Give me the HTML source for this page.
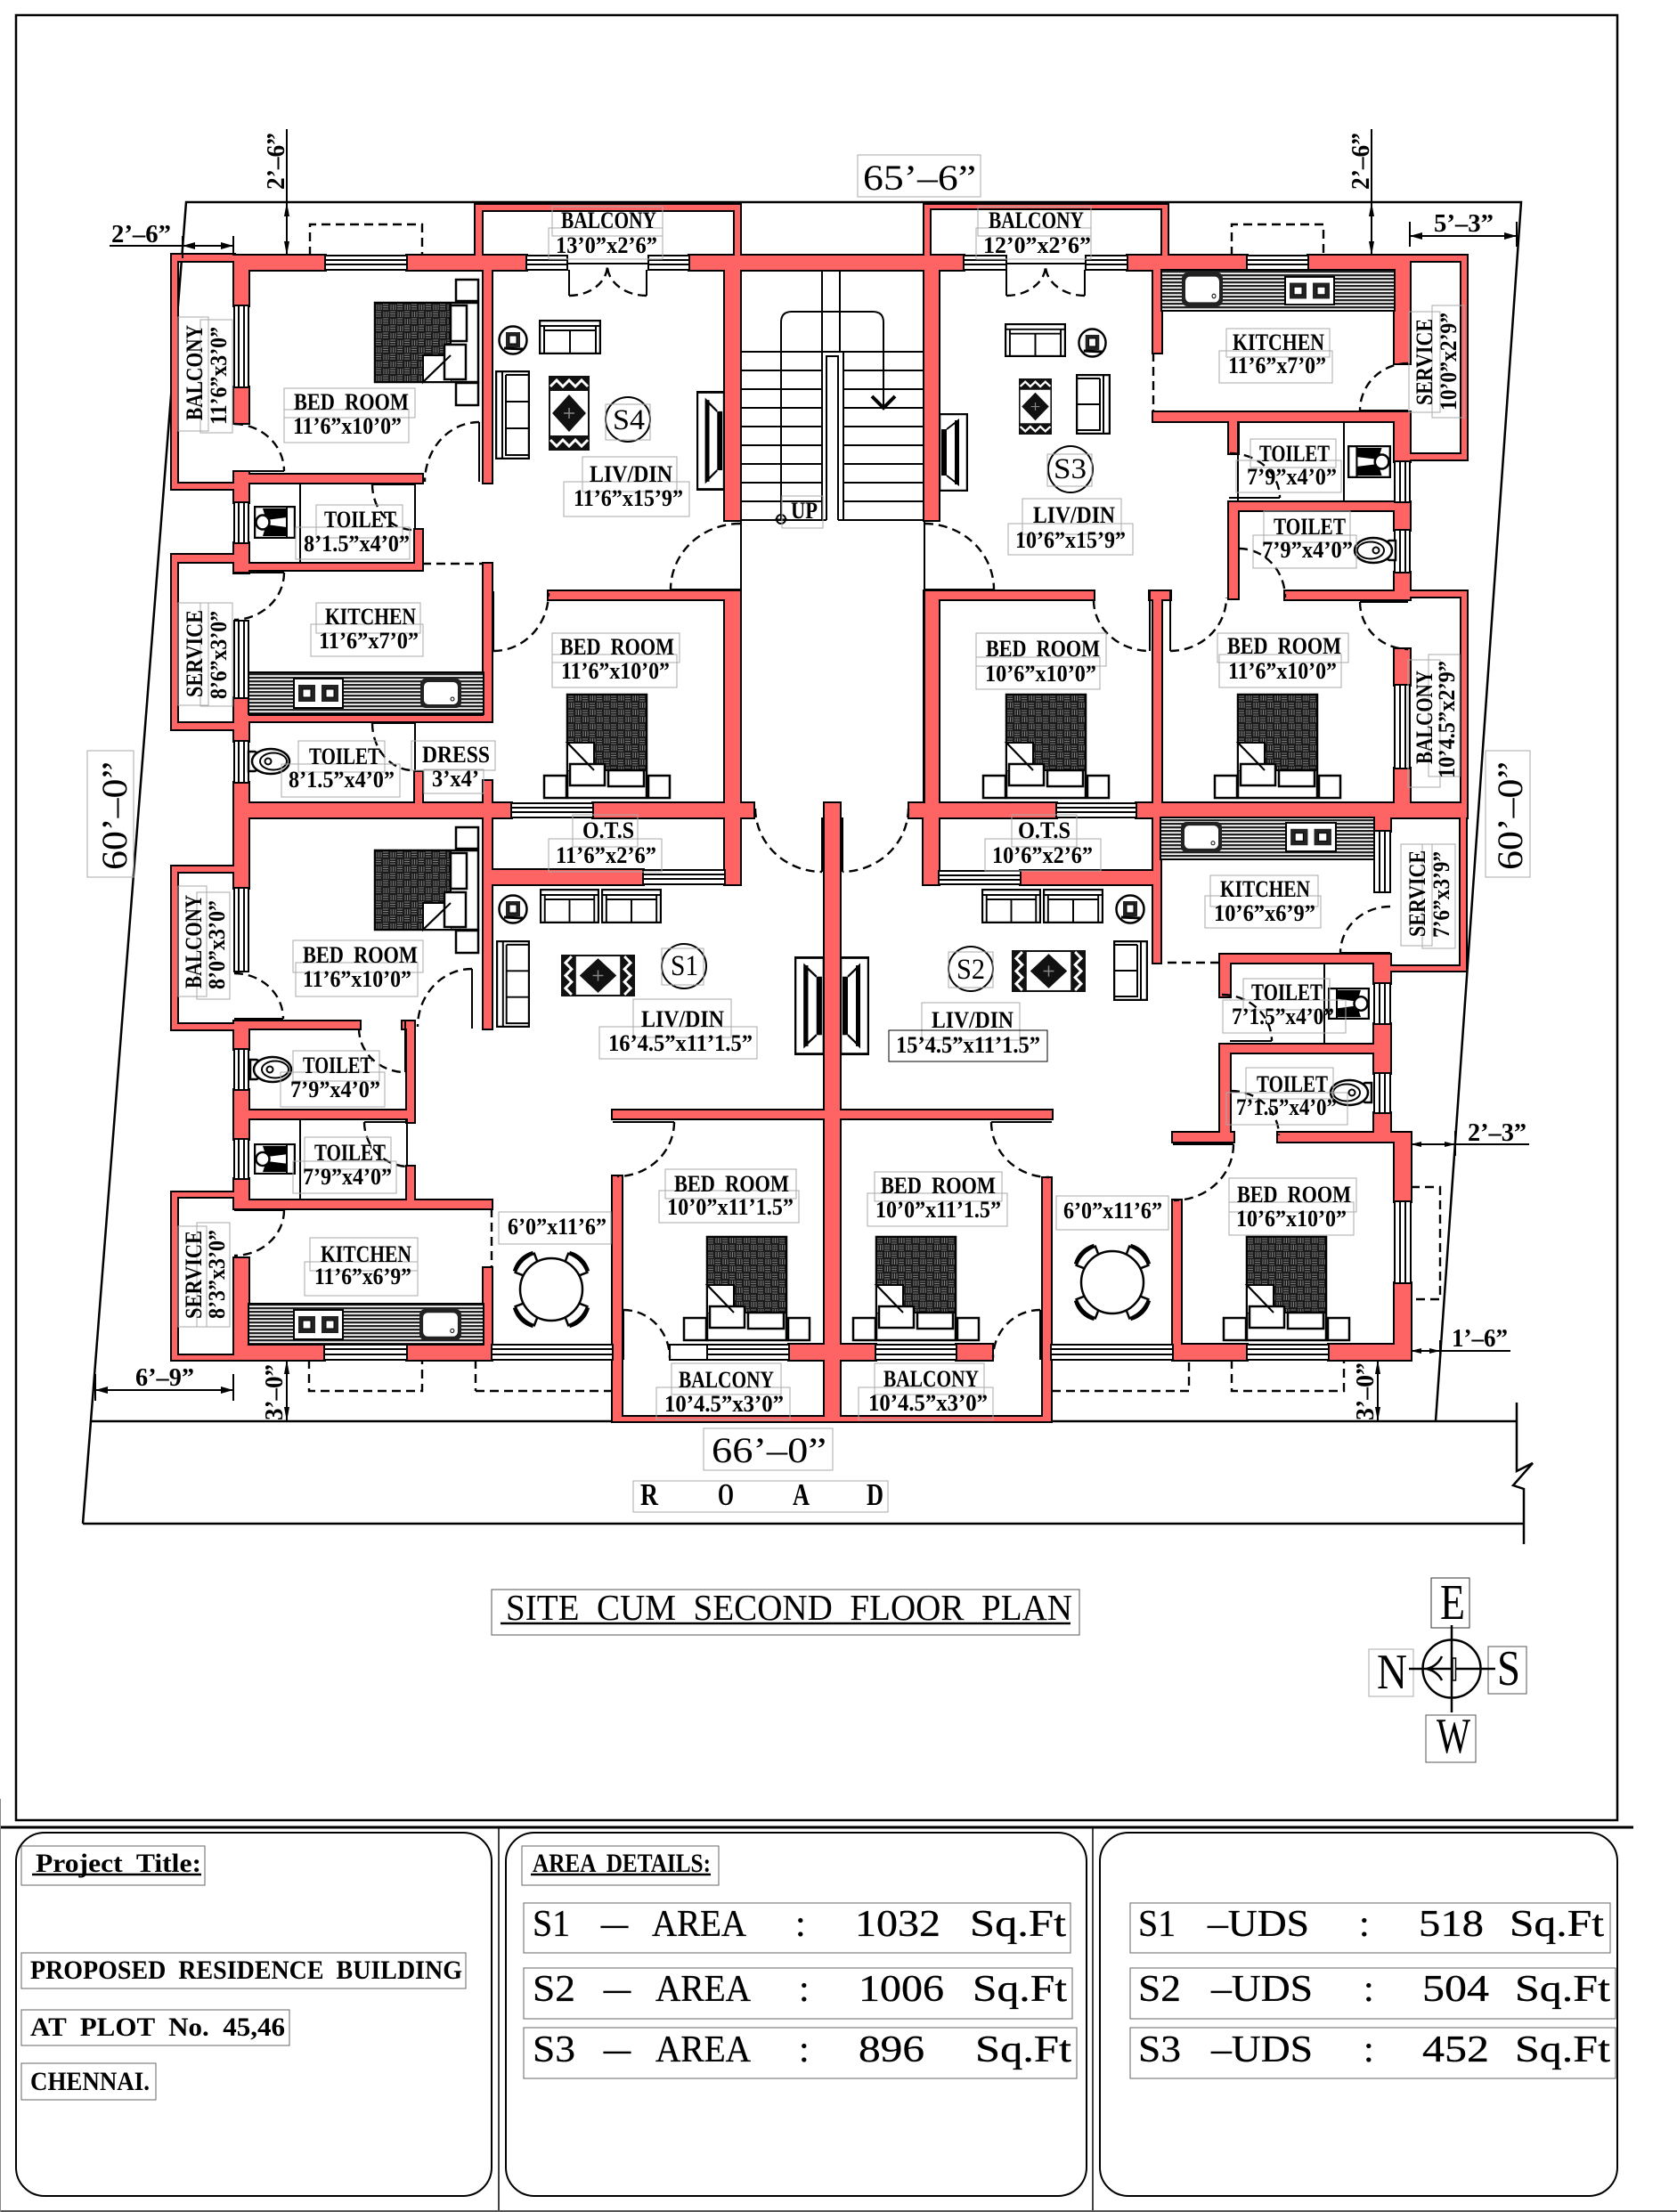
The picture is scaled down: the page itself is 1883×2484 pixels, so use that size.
<!DOCTYPE html>
<html><head><meta charset="utf-8"><title>Site cum second floor plan</title>
<style>
html,body{margin:0;padding:0;background:#fff}
svg{display:block}
text{font-family:"Liberation Serif",serif;white-space:pre;fill:#000}
.r text{font-size:26px;font-weight:bold}
.d text{font-size:29px;font-weight:bold}
.b{fill:none;stroke:#aaa;stroke-width:1}
.k{fill:none;stroke:#000;stroke-width:2}
.dash{fill:none;stroke:#000;stroke-width:2.4;stroke-dasharray:10 6}
.s{fill:#fff;stroke:#000;stroke-width:2.5}
.big text{font-size:42px;stroke:#000;stroke-width:.3}
.tb text{font-size:30px;font-weight:bold}
</style></head><body>
<svg xmlns="http://www.w3.org/2000/svg" width="1883" height="2484" viewBox="0 0 1883 2484">
<defs>
<pattern id="hatch" width="16" height="16" patternUnits="userSpaceOnUse">
<rect width="16" height="16" fill="#1a1a1a"/>
<path d="M1 2H7M1 4.500H7M1 7H7M9 10H15M9 12.500H15M9 15H15" stroke="#999" stroke-width=".8"/>
<path d="M10 1V7M12.500 1V7M15 1V7M2 9V15M4.500 9V15M7 9V15" stroke="#999" stroke-width=".8"/>
</pattern>
<pattern id="hl" width="6" height="4" patternUnits="userSpaceOnUse"><rect width="6" height="4" fill="#fff"/><rect width="6" height="2.300" fill="#222"/></pattern>
<path id="walls" d="
M263 287H365V303H263ZM457 287H591V303H457ZM774 287H1082V303H774ZM1266 287H1400V303H1266ZM1469 287H1583V303H1469Z
M263 287H279V343H263ZM263 435H279V475H263ZM263 530H279V564H263ZM263 610H279V643H263ZM263 784H279V832H263ZM263 879H279V918H263Z
M263 533H474V542H263ZM466 595H474V640H466ZM263 633H474V640H263Z
M543 303H552V542H543ZM543 633H552V810H543ZM279 804H552V810H279ZM543 877H552V902H543ZM466 867H474V902H466Z
M814 303H831V584H814ZM1038 303H1054V584H1038ZM814 664H831V902H814ZM1038 664H1054V902H1038Z
M616 664H831V673H616ZM1038 664H1228V673H1038ZM1291 664H1314V673H1291ZM1295 664H1304V902H1295Z
M534 230H831V236H534ZM534 230H541V287H534ZM825 230H831V287H825ZM1038 230H1311V234H1038ZM1038 230H1044V287H1038ZM1305 230H1311V287H1305Z
M193 286H263V293H193ZM193 286H199V549H193ZM193 543H263V549H193ZM193 623H263V631H193ZM193 623H199V819H193ZM193 812H263V819H193Z
M1583 287H1647V293H1583ZM1641 287H1647V516H1641ZM1583 510H1647V516H1583ZM1583 664H1647V670H1583ZM1641 664H1647V902H1641Z
M1566 287H1583V408H1566ZM1295 463H1583V473H1295ZM1566 463H1583V518H1566ZM1566 564H1583V595H1566ZM1566 643H1583V673H1566ZM1566 729H1583V769H1566ZM1566 863H1583V902H1566Z
M1295 303H1304V396H1295ZM1380 473H1390V509H1380ZM1380 564H1583V573H1380ZM1380 564H1390V672H1380ZM1443 664H1583V673H1443Z
M263 902H574V918H263ZM666 902H846V918H666ZM926 902H943V918H926ZM1021 902H1186V918H1021ZM1276 902H1647V918H1276Z
M543 918H552V1155H543ZM552 977H722V993H552ZM814 918H831V993H814ZM1037 918H1054V993H1037ZM1146 978H1303V993H1146ZM1295 918H1303V1081H1295Z
M263 918H279V997H263ZM263 1147H279V1178H263ZM263 1224H279V1279H263ZM263 1324H279V1357H263ZM263 1413H279V1527H263Z
M263 1147H404V1155H263ZM452 1147H465V1155H452ZM457 1147H465V1260H457ZM279 1247H465V1256H279ZM457 1310H465V1357H457ZM263 1348H552V1357H263ZM543 1424H552V1527H543Z
M263 1510H364V1527H263ZM457 1510H552V1527H457Z
M193 973H263V979H193ZM193 973H199V1156H193ZM193 1150H263V1156H193ZM193 1339H263V1344H193ZM193 1339H199V1527H193ZM193 1522H263V1527H193Z
M926 902H943V1596H926ZM688 1247H1181V1256H688ZM688 1321H698V1596H688ZM688 1591H926V1596H688ZM943 1591H1180V1596H943ZM1171 1323H1180V1596H1171Z
M886 1510H983V1527H886ZM1074 1510H1114V1527H1074ZM1317 1510H1400V1527H1317ZM1492 1510H1584V1527H1492ZM1317 1348H1326V1527H1317Z
M1566 1272H1584V1349H1566ZM1566 1441H1584V1527H1566ZM1435 1272H1584V1282H1435ZM1317 1272H1385V1282H1317ZM1370 1173H1381V1282H1370Z
M1370 1173H1561V1182H1370ZM1370 1072H1561V1081H1370ZM1370 1072H1381V1119H1370ZM1543 1072H1561V1104H1543ZM1543 1150H1561V1205H1543ZM1543 1250H1561V1282H1543ZM1543 918H1561V933H1543Z
M1561 1085H1646V1090H1561ZM1640 918H1646V1090H1640Z"/>
<g id="bed">
<rect x="-26" y="91" width="25" height="25" class="s"/><rect x="91" y="91" width="24" height="25" class="s"/>
<rect x="0" y="0" width="89" height="116" class="s"/>
<rect x="0" y="0" width="89" height="85" fill="url(#hatch)" stroke="#000" stroke-width="2"/>
<path d="M0 54H30V85H0Z" fill="#fff"/><path d="M0 54H30V85ZM0 54V85" class="k"/>
<rect x="3" y="78" width="39" height="24" class="s"/><path d="M0 54L30 85" class="k"/>
<rect x="46" y="85" width="40" height="18" class="s"/>
</g>
<symbol id="stove" viewBox="0 0 57 35" preserveAspectRatio="none"><rect x="1" y="1" width="55" height="33" fill="#fff" stroke="#000" stroke-width="2"/><rect x="6" y="8" width="19" height="19" fill="#222"/><rect x="11" y="13" width="9" height="9" fill="#fff" stroke="#000"/><rect x="32" y="8" width="19" height="19" fill="#222"/><rect x="37" y="13" width="9" height="9" fill="#fff" stroke="#000"/></symbol>
<symbol id="sink" viewBox="0 0 46 33" preserveAspectRatio="none"><rect x="0" y="0" width="46" height="33" rx="6" fill="#222"/><rect x="4" y="4" width="38" height="25" rx="5" fill="#fff"/><circle cx="36" cy="23" r="2" fill="#fff" stroke="#000"/></symbol>
<symbol id="sofa" viewBox="0 0 70 39" preserveAspectRatio="none"><rect x="1" y="1" width="68" height="37" class="s"/><path d="M1 7H69M6 7V38M64 7V38M6 12H64M35 12V38" class="k"/></symbol>
<symbol id="sofa3" viewBox="0 0 39 100" preserveAspectRatio="none"><rect x="1" y="1" width="37" height="98" class="s"/><path d="M8 1V99M12 5V95H38M12 5H38M12 35H38M12 65H38" class="k"/></symbol>
<symbol id="sofa2r" viewBox="0 0 39 68" preserveAspectRatio="none"><rect x="1" y="1" width="37" height="66" class="s"/><path d="M31 1V67M27 5V63H1M27 5H1M27 34H1" class="k"/></symbol>
<symbol id="phone" viewBox="0 0 34 34" preserveAspectRatio="none"><circle cx="17" cy="17" r="15.500" class="s"/><rect x="9" y="8" width="16" height="17" fill="#222"/><rect x="13" y="12" width="8" height="9" fill="#fff" stroke="#000"/><path d="M7 26L28 27" stroke="#000" stroke-width="3"/></symbol>
<symbol id="rug" viewBox="0 0 46 84" preserveAspectRatio="none"><rect width="46" height="84" fill="#111"/><rect x="2" y="17" width="42" height="50" fill="#fff"/><path d="M23 21L42 42L23 63L4 42Z" fill="#111"/><path d="M17 42H29M23 36V48" stroke="#888" stroke-width="1.500"/><path d="M2 12L9 5L16 12L23 5L30 12L37 5L44 12M2 72L9 79L16 72L23 79L30 72L37 79L44 72" fill="none" stroke="#fff" stroke-width="3"/></symbol>
<symbol id="tv" viewBox="0 0 33 88" preserveAspectRatio="none"><rect x="1" y="1" width="31" height="86" class="s"/><rect x="3" y="18" width="6" height="52" fill="#000"/><path d="M9 18L22 8V80L9 70" class="k"/><rect x="18" y="8" width="5" height="72" fill="#000"/></symbol>
<symbol id="shower" viewBox="0 0 47 37" preserveAspectRatio="none"><rect x="1" y="1" width="45" height="35" class="s"/><path d="M10 3H37V13L14 16ZM10 34H37V24L14 21Z" fill="#000"/><ellipse cx="10" cy="18.500" rx="7.500" ry="8" class="s" stroke-width="2"/><path d="M37 2V35" class="k"/></symbol>
<g id="wc"><path d="M-25 -11H-18L-12 -8V8L-18 11H-25Z" class="s"/><ellipse cx="0" cy="0" rx="21" ry="14" class="s"/><ellipse cx="3" cy="0" rx="15" ry="9.500" class="k"/><circle cx="-3" cy="0" r="3.500" class="k"/></g>
<g id="chair"><path d="M-11 -33L-15 -42Q0 -49 15 -42L11 -33" fill="#fff" stroke="#000" stroke-width="2.500"/><path d="M-15 -44Q0 -52 15 -44" fill="none" stroke="#000" stroke-width="3"/></g>
<g id="din"><use href="#chair" transform="rotate(45)"/><use href="#chair" transform="rotate(135)"/><use href="#chair" transform="rotate(225)"/><use href="#chair" transform="rotate(315)"/><circle r="35" class="s"/></g>
</defs>

<rect width="1883" height="2484" fill="#fff"/>
<!-- frames -->
<rect x="18" y="17" width="1798" height="2027" fill="none" stroke="#000" stroke-width="2.500"/>
<path d="M0 2052H1834" stroke="#000" stroke-width="3"/>
<path d="M560 2052V2484M1227 2052V2484" stroke="#000" stroke-width="1.500"/>
<path d="M0 2483H1883" stroke="#555" stroke-width="2"/>
<path d="M0.500 2020V2484" stroke="#888" stroke-width="1"/>
<rect x="18" y="2058" width="534" height="408" rx="32" class="k"/>
<rect x="568" y="2058" width="652" height="408" rx="32" class="k"/>
<rect x="1235" y="2058" width="581" height="408" rx="32" class="k"/>

<!-- site -->
<path d="M93 1711L209 227H1708L1612 1596" fill="none" stroke="#000" stroke-width="2.500"/>
<path d="M103 1596H1703M93 1711H1710" stroke="#000" stroke-width="2.500"/>
<path d="M1703 1575V1652L1721 1643L1699 1668L1711 1672V1734" fill="none" stroke="#000" stroke-width="2.500"/>

<!-- dashed projections -->
<path class="dash" d="M348 287V252H474V287M1383 287V252H1486V287M347 1527V1562H474V1527M534 1562H688M534 1527V1562M1181 1562H1335V1527M1383 1527V1562H1509V1527M1584 1333H1617V1459H1584"/>
<path class="dash" d="M1295 396V463M474 633H543M552 1357V1424M1295 1081H1370"/>

<!-- walls -->
<use href="#walls" fill="#000" stroke="#000" stroke-width="4"/>
<use href="#walls" fill="#ff6464"/>

<!-- windows -->
<g fill="#fff" stroke="#000" stroke-width="2">
<path d="M365 287h92v16h-92zM365 292h92M365 297h92M591 287h46v16h-46zM591 292h46M591 297h46M728 287h46v16h-46zM728 292h46M728 297h46M1082 287h48v16h-48zM1082 292h48M1082 297h48M1219 287h47v16h-47zM1219 292h47M1219 297h47M1400 287h69v16h-69zM1400 292h69M1400 297h69"/>
<path d="M574 902h92v16h-92zM574 907h92M574 912h92M1186 902h90v16h-90zM1186 907h90M1186 912h90M722 977h92v16h-92zM722 982h92M722 987h92M1054 978h92v15h-92zM1054 983h92M1054 988h92"/>
<path d="M364 1510h93v17h-93zM364 1515h93M364 1521h93M552 1510h136v17h-136zM552 1515h136M552 1521h136M794 1510h92v17h-92zM794 1515h92M794 1521h92M983 1510h91v17h-91zM983 1515h91M983 1521h91M1180 1510h137v17h-137zM1180 1515h137M1180 1521h137M1400 1510h92v17h-92zM1400 1515h92M1400 1521h92M752 1510h42v17h-42z"/>
<path d="M263 343h16v92h-16zM268 343v92M274 343v92M263 564h16v46h-16zM268 564v46M274 564v46M263 697h16v87h-16zM268 697v87M274 697v87M263 832h16v47h-16zM268 832v47M274 832v47M263 997h16v94h-16zM268 997v94M274 997v94M263 1178h16v46h-16zM268 1178v46M274 1178v46M263 1279h16v45h-16zM268 1279v45M274 1279v45"/>
<path d="M1566 518h17v46h-17zM1572 518v46M1578 518v46M1566 595h17v48h-17zM1572 595v48M1578 595v48M1566 769h17v94h-17zM1572 769v94M1578 769v94M1566 1349h18v92h-18zM1572 1349v92M1578 1349v92M1543 1104h18v46h-18zM1549 1104v46M1555 1104v46M1543 1205h18v45h-18zM1549 1205v45M1555 1205v45M1543 933h18v69h-18zM1549 933v69M1555 933v69"/>
</g>

<!-- interior thin lines -->
<path class="k" d="M466 542V595M466 810V867M337 542V633M1509 473V564M337 1256V1348M457 1256V1310M1487 1081V1173M1390 473V564"/>
<path class="k" d="M538 474V541M1291 664V731M1314 664V731M554 664V731M923 918V979M946 918V979M530 1088V1155M455 1147V1204M1168 1471V1527M700 1471V1527M1391 616V671M1382 1224V1272"/>
<path class="k" d="M263 529H319M263 643H319M418 544H466M418 812H466M753 662H831M1038 662H1116M1527 461H1581M1380 559H1437M1527 676H1581M263 1144H318M263 1359H319M409 1260H457M688 1260H757M1113 1260H1181M1505 1070H1561M1381 1169H1428M1317 1285H1385"/>

<!-- doors -->
<path class="dash" d="M263 476A57 53 0 0 1 319 529M538 474A61 67 0 0 0 477 541M418 544A46 51 0 0 0 466 595M319 643A57 53 0 0 1 263 696M831 588A78 74 0 0 0 753 662M554 731A62 65 0 0 0 616 666M418 812A46 53 0 0 0 466 865"/>
<path class="dash" d="M639 332A43 34 0 0 0 682 298M726 332A44 34 0 0 1 682 298M1130 332A44 34 0 0 0 1174 298M1218 332A44 34 0 0 1 1174 298"/>
<path class="k" d="M639 303V332M726 303V332M1130 303V332M1218 303V332M637 296H728M1130 296H1219"/>
<path class="dash" d="M1581 408A54 53 0 0 0 1527 461M1381 509A56 50 0 0 1 1437 559M1391 616A52 55 0 0 1 1443 671M1038 588A78 74 0 0 1 1116 662M1228 674A63 57 0 0 0 1291 731M1314 731A63 60 0 0 0 1377 671M1527 676A54 53 0 0 0 1581 729"/>
<path class="dash" d="M848 908A75 72 0 0 0 923 979M1020 908A75 72 0 0 1 946 979"/>
<path class="dash" d="M263 1093A55 51 0 0 1 318 1144M530 1088A61 65 0 0 0 469 1153M403 1155A52 49 0 0 0 455 1204M409 1260A50 50 0 0 0 459 1310M319 1359A56 51 0 0 1 263 1410M757 1260A64 61 0 0 1 693 1321M700 1471A52 54 0 0 1 752 1525"/>
<path class="dash" d="M1113 1260A65 62 0 0 0 1178 1322M1168 1471A53 54 0 0 0 1115 1525M1561 1018A56 52 0 0 0 1505 1070M1372 1117A56 52 0 0 1 1428 1169M1382 1225A54 50 0 0 1 1436 1275M1385 1285A67 63 0 0 1 1318 1348"/>

<!-- stairs -->
<path class="k" d="M832 395H923M947 395H1038M923 395H947M832 416H923M947 416H1038M832 437H923M947 437H1038M832 458H923M947 458H1038M832 479H923M947 479H1038M832 500H923M947 500H1038M832 521H923M947 521H1038M832 542H923M947 542H1038M832 563H923M947 563H1038M832 584H928M941 584H1038"/>
<path class="k" d="M923 303V584M943 303V395M947 395V584M928 584V400H941V584M877 583V362Q877 350 889 350H980Q992 350 992 362V458"/>
<path d="M979 445L992 458L1005 445" fill="none" stroke="#000" stroke-width="4"/>
<circle cx="877" cy="583" r="5" fill="none" stroke="#000" stroke-width="2"/><path d="M870 583H884" stroke="#000"/>
<path class="k" d="M832 584V902M1038 584V902"/>

<!-- kitchens -->
<g stroke="#000" stroke-width="2"><rect x="279" y="755" width="264" height="47" fill="url(#hl)"/><rect x="1304" y="303" width="262" height="46" fill="url(#hl)"/><rect x="1303" y="918" width="240" height="47" fill="url(#hl)"/><rect x="279" y="1464" width="264" height="46" fill="url(#hl)"/></g>
<use href="#stove" x="329" y="761" width="57" height="35"/><use href="#sink" x="472" y="762" width="46" height="33"/>
<use href="#stove" x="1442" y="310" width="57" height="33"/><use href="#sink" x="1327" y="306" width="46" height="38"/>
<use href="#stove" x="1443" y="923" width="58" height="34"/><use href="#sink" x="1326" y="923" width="46" height="34"/>
<use href="#stove" x="329" y="1470" width="57" height="35"/><use href="#sink" x="471" y="1470" width="47" height="35"/>

<!-- beds -->
<use href="#bed" transform="translate(637,780)"/><use href="#bed" transform="translate(1130,780)"/><use href="#bed" transform="translate(1390,780)"/>
<use href="#bed" transform="translate(794,1389)"/><use href="#bed" transform="translate(984,1389)"/><use href="#bed" transform="translate(1400,1389)"/>
<use href="#bed" transform="translate(421,429) rotate(-90)"/><use href="#bed" transform="translate(421,1044) rotate(-90)"/>

<!-- living furniture -->
<use href="#sofa" x="605" y="359" width="70" height="39"/><use href="#sofa3" x="556" y="416" width="39" height="100"/>
<use href="#sofa" x="1128" y="363" width="69" height="38"/><use href="#sofa2r" x="1208" y="420" width="39" height="68"/>
<use href="#sofa" x="606" y="998" width="67" height="39"/><use href="#sofa" x="675" y="998" width="68" height="39"/><use href="#sofa3" x="557" y="1056" width="38" height="98"/>
<use href="#sofa" x="1102" y="998" width="67" height="39"/><use href="#sofa" x="1171" y="998" width="68" height="39"/><use href="#sofa2r" x="1250" y="1056" width="39" height="68"/>
<use href="#phone" x="559" y="365" width="34" height="34"/><use href="#phone" x="1210" y="368" width="33" height="34"/><use href="#phone" x="559" y="1004" width="34" height="34"/><use href="#phone" x="1252" y="1004" width="34" height="34"/>
<use href="#rug" x="616" y="422" width="46" height="84"/><use href="#rug" x="1144" y="425" width="37" height="63"/>
<use href="#rug" transform="translate(713,1072) rotate(90)" width="47" height="83"/><use href="#rug" transform="translate(1219,1067) rotate(90)" width="47" height="83"/>
<use href="#tv" transform="translate(814,439) scale(-1,1)" width="32" height="112"/><use href="#tv" x="1054" y="464" width="33" height="88"/>
<use href="#tv" transform="translate(926,1074) scale(-1,1)" width="34" height="111"/><use href="#tv" x="943" y="1074" width="33" height="111"/>
<use href="#din" transform="translate(619,1448)"/><use href="#din" transform="translate(1249,1440)"/>

<!-- sanitary -->
<use href="#wc" transform="translate(304,855)"/><use href="#wc" transform="translate(306,1201)"/><use href="#wc" transform="translate(1542,618) scale(-1,1)"/><use href="#wc" transform="translate(1515,1227) scale(-1,1)"/>
<use href="#shower" x="285" y="568" width="47" height="37"/><use href="#shower" x="285" y="1284" width="47" height="35"/>
<use href="#shower" transform="translate(1562,500) scale(-1,1)" width="49" height="37"/><use href="#shower" transform="translate(1538,1109) scale(-1,1)" width="47" height="36"/>

<!-- circles -->
<g class="k"><circle cx="705" cy="471" r="25"/><ellipse cx="1202" cy="527" rx="25" ry="26"/><circle cx="768" cy="1085" r="25"/><circle cx="1090" cy="1088" r="25"/></g>

<!-- label boxes -->
<g class="b">
<rect x="620" y="232" width="124" height="33"/><rect x="616" y="256" width="128" height="35"/><rect x="1098" y="232" width="127" height="33"/><rect x="1096" y="256" width="129" height="35"/>
<rect x="200" y="356" width="34" height="128"/><rect x="225" y="359" width="36" height="127"/><rect x="319" y="436" width="147" height="33"/><rect x="319" y="460" width="140" height="37"/>
<rect x="680" y="454" width="50" height="40"/><rect x="654" y="513" width="106" height="39"/><rect x="633" y="541" width="141" height="39"/><rect x="355" y="567" width="97" height="37"/><rect x="332" y="592" width="128" height="36"/>
<rect x="355" y="677" width="117" height="34"/><rect x="349" y="701" width="126" height="36"/><rect x="200" y="677" width="34" height="115"/><rect x="225" y="677" width="36" height="116"/>
<rect x="620" y="711" width="143" height="33"/><rect x="620" y="735" width="140" height="37"/><rect x="335" y="832" width="97" height="35"/><rect x="316" y="858" width="133" height="37"/><rect x="462" y="832" width="94" height="33"/><rect x="476" y="864" width="67" height="27"/>
<rect x="1377" y="369" width="116" height="32"/><rect x="1369" y="394" width="127" height="36"/><rect x="1582" y="350" width="35" height="113"/><rect x="1608" y="343" width="36" height="126"/>
<rect x="1404" y="493" width="96" height="32"/><rect x="1388" y="517" width="118" height="36"/><rect x="1419" y="574" width="97" height="35"/><rect x="1407" y="601" width="116" height="37"/>
<rect x="1176" y="510" width="50" height="36"/><rect x="1148" y="560" width="111" height="40"/><rect x="1132" y="588" width="140" height="35"/><rect x="1096" y="711" width="146" height="37"/><rect x="1096" y="738" width="139" height="36"/>
<rect x="1367" y="711" width="147" height="33"/><rect x="1369" y="735" width="137" height="37"/><rect x="1581" y="741" width="36" height="143"/><rect x="1604" y="735" width="35" height="137"/>
<rect x="878" y="557" width="46" height="36"/>
<rect x="643" y="915" width="73" height="36"/><rect x="616" y="942" width="127" height="37"/><rect x="1136" y="915" width="73" height="36"/><rect x="1106" y="942" width="130" height="36"/>
<rect x="200" y="995" width="32" height="124"/><rect x="221" y="1002" width="37" height="120"/><rect x="329" y="1056" width="146" height="36"/><rect x="332" y="1081" width="137" height="38"/>
<rect x="743" y="1065" width="47" height="41"/><rect x="711" y="1122" width="110" height="43"/><rect x="673" y="1153" width="177" height="36"/><rect x="329" y="1180" width="97" height="34"/><rect x="315" y="1204" width="117" height="39"/>
<rect x="342" y="1277" width="97" height="36"/><rect x="329" y="1304" width="116" height="36"/><rect x="560" y="1361" width="126" height="36"/><rect x="747" y="1313" width="147" height="33"/><rect x="740" y="1337" width="157" height="36"/>
<rect x="348" y="1390" width="121" height="37"/><rect x="342" y="1417" width="127" height="38"/><rect x="200" y="1377" width="32" height="113"/><rect x="221" y="1373" width="37" height="117"/><rect x="754" y="1531" width="123" height="35"/><rect x="737" y="1558" width="150" height="36"/>
<rect x="1359" y="983" width="121" height="35"/><rect x="1353" y="1006" width="130" height="36"/><rect x="1573" y="948" width="35" height="114"/><rect x="1597" y="948" width="37" height="117"/>
<rect x="1065" y="1069" width="50" height="40"/><rect x="1035" y="1126" width="110" height="42"/><rect x="998" y="1157" width="178" height="35" stroke="#000"/><rect x="1396" y="1099" width="97" height="35"/><rect x="1373" y="1123" width="138" height="37"/><rect x="1399" y="1199" width="98" height="35"/><rect x="1377" y="1227" width="136" height="36"/>
<rect x="1186" y="1343" width="126" height="38"/><rect x="982" y="1316" width="143" height="33"/><rect x="974" y="1340" width="157" height="37"/><rect x="1380" y="1323" width="143" height="38"/><rect x="1380" y="1350" width="140" height="37"/><rect x="982" y="1531" width="123" height="35"/><rect x="964" y="1558" width="151" height="36"/>
<rect x="963" y="174" width="138" height="47"/><rect x="790" y="1604" width="145" height="47"/><rect x="711" y="1663" width="286" height="35"/><rect x="552" y="1785" width="660" height="51" stroke="#555"/>
<rect x="98" y="843" width="52" height="142"/><rect x="1668" y="843" width="50" height="142"/>
<rect x="1607" y="1772" width="43" height="56" stroke="#333"/><rect x="1601" y="1926" width="56" height="53" stroke="#555"/><rect x="1537" y="1852" width="50" height="53"/><rect x="1671" y="1849" width="43" height="53" stroke="#555"/>
</g>
<g fill="none" stroke="#666" stroke-width="1">
<rect x="24" y="2073" width="206" height="44"/><rect x="586" y="2073" width="221" height="44"/><rect x="24" y="2193" width="499" height="40"/><rect x="24" y="2257" width="301" height="40"/><rect x="24" y="2317" width="151" height="41"/>
<rect x="588" y="2137" width="614" height="56"/><rect x="588" y="2210" width="616" height="57"/><rect x="588" y="2277" width="621" height="57"/>
<rect x="1269" y="2137" width="539" height="56"/><rect x="1269" y="2210" width="545" height="57"/><rect x="1269" y="2277" width="545" height="57"/>
</g>

<!-- room labels -->
<g class="r">
<text x="630" y="256" textLength="107" lengthAdjust="spacingAndGlyphs">BALCONY</text>
<text x="624" y="284" textLength="114" lengthAdjust="spacingAndGlyphs">13’0”x2’6”</text>
<text x="1110" y="256" textLength="107" lengthAdjust="spacingAndGlyphs">BALCONY</text>
<text x="1104" y="284" textLength="121" lengthAdjust="spacingAndGlyphs">12’0”x2’6”</text>
<text transform="translate(227,472) rotate(-90)" textLength="107" lengthAdjust="spacingAndGlyphs">BALCONY</text>
<text transform="translate(254,477) rotate(-90)" textLength="110" lengthAdjust="spacingAndGlyphs">11’6”x3’0”</text>
<text x="330" y="460" textLength="129" lengthAdjust="spacingAndGlyphs">BED  ROOM</text>
<text x="329" y="487" textLength="122" lengthAdjust="spacingAndGlyphs">11’6”x10’0”</text>
<text x="662" y="541" textLength="93" lengthAdjust="spacingAndGlyphs">LIV/DIN</text>
<text x="644" y="568" textLength="123" lengthAdjust="spacingAndGlyphs">11’6”x15’9”</text>
<text x="364" y="592" textLength="81" lengthAdjust="spacingAndGlyphs">TOILET</text>
<text x="341" y="619" textLength="119" lengthAdjust="spacingAndGlyphs">8’1.5”x4’0”</text>
<text x="365" y="701" textLength="102" lengthAdjust="spacingAndGlyphs">KITCHEN</text>
<text x="358" y="728" textLength="112" lengthAdjust="spacingAndGlyphs">11’6”x7’0”</text>
<text transform="translate(227,783) rotate(-90)" textLength="98" lengthAdjust="spacingAndGlyphs">SERVICE</text>
<text transform="translate(254,785) rotate(-90)" textLength="99" lengthAdjust="spacingAndGlyphs">8’6”x3’0”</text>
<text x="629" y="735" textLength="128" lengthAdjust="spacingAndGlyphs">BED  ROOM</text>
<text x="630" y="762" textLength="122" lengthAdjust="spacingAndGlyphs">11’6”x10’0”</text>
<text x="347" y="858" textLength="80" lengthAdjust="spacingAndGlyphs">TOILET</text>
<text x="324" y="884" textLength="119" lengthAdjust="spacingAndGlyphs">8’1.5”x4’0”</text>
<text x="474" y="856" textLength="76" lengthAdjust="spacingAndGlyphs">DRESS</text>
<text x="485" y="883" textLength="53" lengthAdjust="spacingAndGlyphs">3’x4’</text>
<text x="654" y="941" textLength="58" lengthAdjust="spacingAndGlyphs">O.T.S</text>
<text x="624" y="969" textLength="113" lengthAdjust="spacingAndGlyphs">11’6”x2’6”</text>
<text x="1384" y="393" textLength="103" lengthAdjust="spacingAndGlyphs">KITCHEN</text>
<text x="1379" y="419" textLength="110" lengthAdjust="spacingAndGlyphs">11’6”x7’0”</text>
<text transform="translate(1608,455) rotate(-90)" textLength="97" lengthAdjust="spacingAndGlyphs">SERVICE</text>
<text transform="translate(1635,461) rotate(-90)" textLength="110" lengthAdjust="spacingAndGlyphs">10’0”x2’9”</text>
<text x="1414" y="518" textLength="79" lengthAdjust="spacingAndGlyphs">TOILET</text>
<text x="1400" y="544" textLength="101" lengthAdjust="spacingAndGlyphs">7’9”x4’0”</text>
<text x="1430" y="600" textLength="81" lengthAdjust="spacingAndGlyphs">TOILET</text>
<text x="1417" y="626" textLength="102" lengthAdjust="spacingAndGlyphs">7’9”x4’0”</text>
<text x="1160" y="587" textLength="92" lengthAdjust="spacingAndGlyphs">LIV/DIN</text>
<text x="1140" y="615" textLength="124" lengthAdjust="spacingAndGlyphs">10’6”x15’9”</text>
<text x="1107" y="737" textLength="128" lengthAdjust="spacingAndGlyphs">BED  ROOM</text>
<text x="1106" y="765" textLength="125" lengthAdjust="spacingAndGlyphs">10’6”x10’0”</text>
<text x="1378" y="734" textLength="128" lengthAdjust="spacingAndGlyphs">BED  ROOM</text>
<text x="1379" y="762" textLength="122" lengthAdjust="spacingAndGlyphs">11’6”x10’0”</text>
<text transform="translate(1608,858) rotate(-90)" textLength="105" lengthAdjust="spacingAndGlyphs">BALCONY</text>
<text transform="translate(1633,874) rotate(-90)" textLength="132" lengthAdjust="spacingAndGlyphs">10’4.5”x2’9”</text>
<text x="1143" y="941" textLength="59" lengthAdjust="spacingAndGlyphs">O.T.S</text>
<text x="1114" y="969" textLength="113" lengthAdjust="spacingAndGlyphs">10’6”x2’6”</text>
<text x="888" y="582" textLength="30" lengthAdjust="spacingAndGlyphs">UP</text>
<text transform="translate(226,1110) rotate(-90)" textLength="105" lengthAdjust="spacingAndGlyphs">BALCONY</text>
<text transform="translate(252,1111) rotate(-90)" textLength="100" lengthAdjust="spacingAndGlyphs">8’0”x3’0”</text>
<text x="340" y="1081" textLength="129" lengthAdjust="spacingAndGlyphs">BED  ROOM</text>
<text x="340" y="1108" textLength="122" lengthAdjust="spacingAndGlyphs">11’6”x10’0”</text>
<text x="720" y="1153" textLength="93" lengthAdjust="spacingAndGlyphs">LIV/DIN</text>
<text x="683" y="1180" textLength="162" lengthAdjust="spacingAndGlyphs">16’4.5”x11’1.5”</text>
<text x="340" y="1205" textLength="78" lengthAdjust="spacingAndGlyphs">TOILET</text>
<text x="326" y="1232" textLength="101" lengthAdjust="spacingAndGlyphs">7’9”x4’0”</text>
<text x="353" y="1303" textLength="80" lengthAdjust="spacingAndGlyphs">TOILET</text>
<text x="340" y="1330" textLength="100" lengthAdjust="spacingAndGlyphs">7’9”x4’0”</text>
<text x="570" y="1386" textLength="111" lengthAdjust="spacingAndGlyphs">6’0”x11’6”</text>
<text x="757" y="1338" textLength="129" lengthAdjust="spacingAndGlyphs">BED  ROOM</text>
<text x="749" y="1364" textLength="142" lengthAdjust="spacingAndGlyphs">10’0”x11’1.5”</text>
<text x="360" y="1417" textLength="102" lengthAdjust="spacingAndGlyphs">KITCHEN</text>
<text x="353" y="1442" textLength="109" lengthAdjust="spacingAndGlyphs">11’6”x6’9”</text>
<text transform="translate(226,1481) rotate(-90)" textLength="99" lengthAdjust="spacingAndGlyphs">SERVICE</text>
<text transform="translate(252,1481) rotate(-90)" textLength="100" lengthAdjust="spacingAndGlyphs">8’3”x3’0”</text>
<text x="762" y="1558" textLength="107" lengthAdjust="spacingAndGlyphs">BALCONY</text>
<text x="746" y="1585" textLength="134" lengthAdjust="spacingAndGlyphs">10’4.5”x3’0”</text>
<text x="1370" y="1007" textLength="101" lengthAdjust="spacingAndGlyphs">KITCHEN</text>
<text x="1363" y="1034" textLength="114" lengthAdjust="spacingAndGlyphs">10’6”x6’9”</text>
<text transform="translate(1600,1052) rotate(-90)" textLength="97" lengthAdjust="spacingAndGlyphs">SERVICE</text>
<text transform="translate(1627,1053) rotate(-90)" textLength="97" lengthAdjust="spacingAndGlyphs">7’6”x3’9”</text>
<text x="1046" y="1154" textLength="92" lengthAdjust="spacingAndGlyphs">LIV/DIN</text>
<text x="1006" y="1182" textLength="162" lengthAdjust="spacingAndGlyphs">15’4.5”x11’1.5”</text>
<text x="1405" y="1123" textLength="80" lengthAdjust="spacingAndGlyphs">TOILET</text>
<text x="1383" y="1150" textLength="115" lengthAdjust="spacingAndGlyphs">7’1.5”x4’0”</text>
<text x="1411" y="1226" textLength="80" lengthAdjust="spacingAndGlyphs">TOILET</text>
<text x="1388" y="1252" textLength="113" lengthAdjust="spacingAndGlyphs">7’1.5”x4’0”</text>
<text x="1194" y="1368" textLength="111" lengthAdjust="spacingAndGlyphs">6’0”x11’6”</text>
<text x="989" y="1340" textLength="129" lengthAdjust="spacingAndGlyphs">BED  ROOM</text>
<text x="983" y="1367" textLength="141" lengthAdjust="spacingAndGlyphs">10’0”x11’1.5”</text>
<text x="1389" y="1350" textLength="128" lengthAdjust="spacingAndGlyphs">BED  ROOM</text>
<text x="1388" y="1377" textLength="124" lengthAdjust="spacingAndGlyphs">10’6”x10’0”</text>
<text x="992" y="1557" textLength="107" lengthAdjust="spacingAndGlyphs">BALCONY</text>
<text x="975" y="1584" textLength="134" lengthAdjust="spacingAndGlyphs">10’4.5”x3’0”</text>
</g>
<g style="font-size:32px"><text x="688" y="482" font-size="33" textLength="36" lengthAdjust="spacingAndGlyphs">S4</text><text x="1183" y="537" font-size="33" textLength="37" lengthAdjust="spacingAndGlyphs">S3</text><text x="753" y="1095" font-size="33" textLength="31" lengthAdjust="spacingAndGlyphs">S1</text><text x="1074" y="1099" font-size="33" textLength="32" lengthAdjust="spacingAndGlyphs">S2</text></g>

<!-- dimensions -->
<g class="d">
<text x="125" y="272" textLength="67" lengthAdjust="spacingAndGlyphs">2’–6”</text>
<text transform="translate(319,213) rotate(-90)" textLength="64" lengthAdjust="spacingAndGlyphs">2’–6”</text>
<text transform="translate(1537,213) rotate(-90)" textLength="64" lengthAdjust="spacingAndGlyphs">2’–6”</text>
<text x="1610" y="260" textLength="67" lengthAdjust="spacingAndGlyphs">5’–3”</text>
<text x="152" y="1556" textLength="66" lengthAdjust="spacingAndGlyphs">6’–9”</text>
<text transform="translate(317,1595) rotate(-90)" textLength="63" lengthAdjust="spacingAndGlyphs">3’–0”</text>
<text transform="translate(1542,1595) rotate(-90)" textLength="65" lengthAdjust="spacingAndGlyphs">3’–0”</text>
<text x="1648" y="1281" textLength="66" lengthAdjust="spacingAndGlyphs">2’–3”</text>
<text x="1630" y="1512" textLength="63" lengthAdjust="spacingAndGlyphs">1’–6”</text>
</g>
<path class="k" d="M123 276H263M262 265V287M205 265V290M322 145V287M1540 145V287M1583 265H1704M1583 249V277M1703 249V277M107 1561H262M107 1543V1573M262 1543V1573M322 1527V1596M1547 1527V1596M1584 1285H1717M1634 1270V1298M1584 1517H1696M1617 1505V1530"/>
<path d="M205 276l14 -4v8zM262 276l-14 -4v8zM322 227l-3 16h6zM322 287l-3 -16h6zM1540 227l-3 16h6zM1540 287l-3 -16h6zM1583 265l14 -4v8zM1703 265l-14 -4v8zM107 1561l14 -4v8zM262 1561l-14 -4v8zM322 1527l-3 16h6zM322 1596l-3 -16h6zM1547 1527l-3 16h6zM1547 1596l-3 -16h6zM1584 1285l12 -3v6zM1634 1285l-12 -3v6zM1584 1517l12 -3v6zM1617 1517l-12 -3v6z"/>
<text x="969" y="213" font-size="40" textLength="127" lengthAdjust="spacingAndGlyphs">65’–6”</text>
<text x="799" y="1642" font-size="40" textLength="129" lengthAdjust="spacingAndGlyphs">66’–0”</text>
<text transform="translate(142,977) rotate(-90)" font-size="40" textLength="122" lengthAdjust="spacingAndGlyphs">60’–0”</text>
<text transform="translate(1709,977) rotate(-90)" font-size="40" textLength="122" lengthAdjust="spacingAndGlyphs">60’–0”</text>
<g font-size="35" font-weight="bold"><text x="719" y="1690" textLength="20" lengthAdjust="spacingAndGlyphs">R</text><text x="806" y="1690" textLength="18" lengthAdjust="spacingAndGlyphs">O</text><text x="890" y="1690" textLength="19" lengthAdjust="spacingAndGlyphs">A</text><text x="973" y="1690" textLength="19" lengthAdjust="spacingAndGlyphs">D</text></g>

<!-- title -->
<text x="568" y="1819" font-size="41" textLength="636" lengthAdjust="spacingAndGlyphs">SITE  CUM  SECOND  FLOOR  PLAN</text>
<path d="M562 1823H1202" stroke="#000" stroke-width="2.500"/>

<!-- compass -->
<circle cx="1630" cy="1874" r="32.500" fill="none" stroke="#000" stroke-width="2.500"/>
<path d="M1630 1825V1923M1582 1874H1679" stroke="#000" stroke-width="2.500"/>
<path d="M1619 1860Q1614 1871 1602 1874Q1614 1877 1619 1887" fill="none" stroke="#000" stroke-width="2.500"/>
<rect x="1631" y="1862" width="3.500" height="25" fill="#fff" stroke="#000" stroke-width="1.500"/>
<g font-size="56"><text x="1617" y="1818" textLength="28" lengthAdjust="spacingAndGlyphs">E</text><text x="1613" y="1968" textLength="38" lengthAdjust="spacingAndGlyphs">W</text><text x="1546" y="1896" textLength="34" lengthAdjust="spacingAndGlyphs">N</text><text x="1681" y="1892" textLength="26" lengthAdjust="spacingAndGlyphs">S</text></g>

<!-- title block -->
<g class="tb">
<text x="40" y="2102" textLength="186" lengthAdjust="spacingAndGlyphs">Project  Title:</text>
<text x="598" y="2102" textLength="200" lengthAdjust="spacingAndGlyphs">AREA  DETAILS:</text>
<text x="34" y="2222" textLength="485" lengthAdjust="spacingAndGlyphs">PROPOSED  RESIDENCE  BUILDING</text>
<text x="34" y="2286" textLength="286" lengthAdjust="spacingAndGlyphs">AT  PLOT  No.  45,46</text>
<text x="34" y="2347" textLength="134" lengthAdjust="spacingAndGlyphs">CHENNAI.</text>
</g>
<path d="M36 2105H226M596 2105H798" stroke="#000" stroke-width="2.500"/>
<g class="big">
<text x="598" y="2174" textLength="42" lengthAdjust="spacingAndGlyphs">S1</text><text x="675" y="2174" textLength="30" lengthAdjust="spacingAndGlyphs">–</text><text x="732" y="2174" textLength="106" lengthAdjust="spacingAndGlyphs">AREA</text><text x="893" y="2174">:</text><text x="960" y="2174" textLength="96" lengthAdjust="spacingAndGlyphs">1032</text><text x="1089" y="2174" textLength="108" lengthAdjust="spacingAndGlyphs">Sq.Ft</text>
<text x="598" y="2247" textLength="48" lengthAdjust="spacingAndGlyphs">S2</text><text x="678" y="2247" textLength="30" lengthAdjust="spacingAndGlyphs">–</text><text x="736" y="2247" textLength="107" lengthAdjust="spacingAndGlyphs">AREA</text><text x="897" y="2247">:</text><text x="964" y="2247" textLength="96" lengthAdjust="spacingAndGlyphs">1006</text><text x="1092" y="2247" textLength="106" lengthAdjust="spacingAndGlyphs">Sq.Ft</text>
<text x="598" y="2315" textLength="48" lengthAdjust="spacingAndGlyphs">S3</text><text x="678" y="2315" textLength="30" lengthAdjust="spacingAndGlyphs">–</text><text x="736" y="2315" textLength="107" lengthAdjust="spacingAndGlyphs">AREA</text><text x="897" y="2315">:</text><text x="964" y="2315" textLength="74" lengthAdjust="spacingAndGlyphs">896</text><text x="1095" y="2315" textLength="108" lengthAdjust="spacingAndGlyphs">Sq.Ft</text>
<text x="1278" y="2174" textLength="42" lengthAdjust="spacingAndGlyphs">S1</text><text x="1356" y="2174" textLength="114" lengthAdjust="spacingAndGlyphs">–UDS</text><text x="1526" y="2174">:</text><text x="1593" y="2174" textLength="73" lengthAdjust="spacingAndGlyphs">518</text><text x="1695" y="2174" textLength="106" lengthAdjust="spacingAndGlyphs">Sq.Ft</text>
<text x="1278" y="2247" textLength="48" lengthAdjust="spacingAndGlyphs">S2</text><text x="1360" y="2247" textLength="114" lengthAdjust="spacingAndGlyphs">–UDS</text><text x="1531" y="2247">:</text><text x="1597" y="2247" textLength="75" lengthAdjust="spacingAndGlyphs">504</text><text x="1701" y="2247" textLength="107" lengthAdjust="spacingAndGlyphs">Sq.Ft</text>
<text x="1278" y="2315" textLength="48" lengthAdjust="spacingAndGlyphs">S3</text><text x="1360" y="2315" textLength="114" lengthAdjust="spacingAndGlyphs">–UDS</text><text x="1531" y="2315">:</text><text x="1597" y="2315" textLength="75" lengthAdjust="spacingAndGlyphs">452</text><text x="1701" y="2315" textLength="107" lengthAdjust="spacingAndGlyphs">Sq.Ft</text>
</g>
</svg>
</body></html>
